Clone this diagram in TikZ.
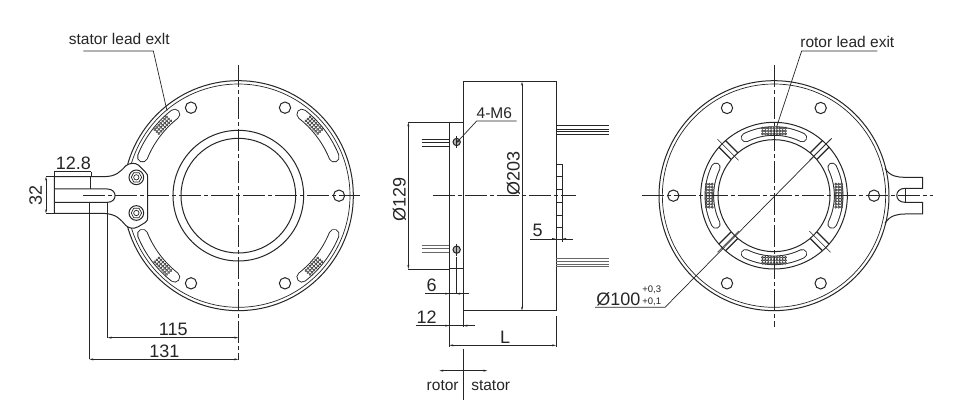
\documentclass[tikz,border=0pt]{standalone}
\usepackage{fontspec}
\setmainfont{Liberation Sans}
\usetikzlibrary{arrows.meta,calc}
\definecolor{ink}{HTML}{262626}
\tikzset{
  part/.style={draw=ink,line width=1pt},
  fine/.style={draw=ink,line width=.7pt},
  centre/.style={draw=ink,line width=.8pt,dash pattern=on 22pt off 3pt on 4pt off 3pt},
  dim/.style={draw=ink,line width=.7pt,{Stealth[length=4pt,width=2pt]}-{Stealth[length=4pt,width=2pt]}},
  big/.style={text=ink,inner sep=0pt,font=\fontsize{18}{20}\selectfont},
  small/.style={text=ink,inner sep=0pt,font=\fontsize{15.5}{18}\selectfont},
  tiny/.style={text=ink,inner sep=0pt,font=\fontsize{9.5}{10}\selectfont},
  Z/.style={x=.33333pt,y=-.33333pt}
}
% #1 cx, #2 cy, #3 radius, #4 from, #5 to, #6 outer width
\newcommand{\slotarc}[6]{%
  \draw[ink,line width=#6pt,line cap=round] plot[domain=#4:#5,samples=24,smooth] ({#1+#3*cos(\x)},{#2+#3*sin(\x)});
  \draw[white,line width=#6pt-1.9pt,line cap=round] plot[domain=#4:#5,samples=24,smooth] ({#1+#3*cos(\x)},{#2+#3*sin(\x)});
}
% #1 cx, #2 cy, #3 radius, #4 angle, #5 half count along the arc
\newcommand{\meshat}[5]{%
  \begin{scope}[shift={(#1,#2)},rotate=#4,x=.33333pt,y=.33333pt]
    \foreach \i in {-#5,...,#5}{\foreach \j in {-1,0,1}{
      \draw[ink!90,line width=.5pt,fill=ink!55] ({#3+\j*8.6},{\i*8.6}) circle[radius=3.5];
    }}
  \end{scope}
}
\begin{document}
\begin{tikzpicture}[x=1pt,y=-1pt]
\useasboundingbox (0,0) rectangle (963,406);
\fill[white] (0,0) rectangle (963,406);

% ---------- left view
\begin{scope}[shift={(20,20)},Z]
  \draw[part] (655,527) circle[radius=345];
  \draw[fine] (655,527) circle[radius=335];
  \draw[part] (655,527) circle[radius=196];
  \draw[part] (655,527) circle[radius=172];
  \foreach \p in {(513,263),(795,263),(957,527),(513,790),(795,790)}
    \draw[part] \p circle[radius=17];
  \slotarc{655}{527}{310}{22}{52}{11}
  \slotarc{655}{527}{310}{128}{158}{11}
  \slotarc{655}{527}{310}{202}{232}{11}
  \slotarc{655}{527}{310}{308}{338}{11}
  \meshat{655}{527}{310}{43}{3}
  \meshat{655}{527}{310}{137}{3}
  \meshat{655}{527}{310}{223}{3}
  \meshat{655}{527}{310}{317}{3}
  % tab and plate
  \draw[part,fill=white] (103,470) -- (250,470) .. controls (290,470) and (300,455) .. (318,437)
     .. controls (330,428) and (345,428) .. (355,435) -- (375,455) .. controls (383,462) and (383,465) .. (383,475)
     -- (383,590) .. controls (383,600) and (383,602) .. (375,608) -- (355,620)
     .. controls (340,628) and (328,625) .. (318,617) .. controls (300,597) and (290,582) .. (250,580)
     -- (103,580) -- cycle;
  \draw[part] (103,507) -- (262,507) .. controls (293,507) and (293,547) .. (262,547) -- (103,547);
  \draw[fine] (210,470) -- (210,507);
  \foreach \y in {472,579}{
    \draw[part] (349,\y) circle[radius=22];
    \draw[fine] (334,\y) -- (341,{\y-14}) -- (357,{\y-14}) -- (365,\y) -- (357,{\y+14}) -- (341,{\y+14}) -- cycle;
    \draw[fine] (349,\y) circle[radius=8];
  }
  % centre lines
  \draw[centre] (190,527) -- (1020,527);
  \draw[centre] (655,135) -- (655,1020);
  % dimensions
  \node[big] (d128) at (160,430) {12.8};
  \coordinate (a1) at (103,455); \coordinate (a2) at (213,455);
  \draw[fine] (a1) -- (a2);
  \draw[fine] (a1) -- (103,470);
  \draw[fine] (a2) -- (213,470);
  \node[big,rotate=90] (d32) at (47,527) {32};
  \coordinate (b1) at (78,470); \coordinate (b2) at (78,580);
  \draw[fine] (b1) -- (103,470);
  \draw[fine] (b2) -- (103,580);
  \draw[dim] (b1) -- (b2);
  \node[big] (d115) at (460,928) {115};
  \coordinate (c1) at (263,953); \coordinate (c2) at (655,953);
  \draw[fine] (263,547) -- (c1);
  \draw[dim] (c1) -- (c2);
  \node[big] (d131) at (433,994) {131};
  \coordinate (e1) at (208,1018); \coordinate (e2) at (655,1018);
  \draw[fine] (208,550) -- (e1);
  \draw[dim] (e1) -- (e2);
  % leader
  \node[small] (stat) at (298,56) {stator lead exlt};
  \coordinate (s1) at (190,93); \coordinate (s2) at (400,93); \coordinate (s3) at (441,272);
  \draw[fine] (s1) -- (s2) -- (s3);
\end{scope}

% ---------- middle view
\begin{scope}[shift={(370,60)},Z]
  \draw[part] (280,65) rectangle (558,752);
  \draw[part] (280,187) -- (238,187) -- (238,627) -- (280,627);
  \foreach \y in {197,208,215,222} \draw[fine] (558,\y) -- (716,\y);
  \foreach \y in {595,603,612,620} \draw[fine,draw=ink!70] (558,\y) -- (716,\y);
  \foreach \y in {238,248,260} \draw[fine] (155,\y) -- (238,\y);
  \foreach \y in {555,565,578} \draw[fine,draw=ink!70] (155,\y) -- (238,\y);
  \foreach \y in {246,569}{
    \draw[part,fill=ink!35] (260,\y) circle[radius=11];
    \draw[fine] (260,{\y-18}) -- (260,{\y+18});
  }
  % small plate on the right face
  \draw[part] (558,313) -- (576,313) -- (576,545);
  \draw[part] (558,503) -- (576,503);
  \foreach \y in {350,388,427,465} \draw[fine] (558,\y) -- (576,\y);
  \draw[centre] (188,407) -- (618,407);
  % dims
  \coordinate (f1) at (115,187); \coordinate (f2) at (115,627);
  \draw[fine] (f1) -- (238,187);
  \draw[fine] (f2) -- (238,627);
  \draw[dim] (f1) -- (f2);
  \node[big,rotate=90] (d129) at (88,419) {Ø129};
  \coordinate (g1) at (456,65); \coordinate (g2) at (456,752);
  \draw[dim] (g1) -- (g2);
  \node[big,rotate=90] (d203) at (430,340) {Ø203};
  \node[small] (m6) at (373,160) {4-M6};
  \coordinate (h1) at (440,183); \coordinate (h2) at (320,183); \coordinate (h3) at (258,250);
  \draw[fine,-{Stealth[length=4pt,width=2pt]}] (h1) -- (h2) -- (h3);
  \node[big] (d5) at (503,511) {5};
  \draw[fine] (480,537) -- (608,537);
  \fill[ink] (558,537) -- (546,534) -- (546,540) -- cycle;
  \fill[ink] (576,537) -- (588,534) -- (588,540) -- cycle;
  \node[big] (d6) at (185,675) {6};
  \draw[fine] (165,701) -- (296,701);
  \draw[fine] (258,590) -- (258,701);
  \fill[ink] (238,701) -- (226,698) -- (226,704) -- cycle;
  \fill[ink] (258,701) -- (270,698) -- (270,704) -- cycle;
  \node[big] (d12) at (170,772) {12};
  \draw[fine] (137,797) -- (315,797);
  \fill[ink] (238,797) -- (226,794) -- (226,800) -- cycle;
  \fill[ink] (280,797) -- (292,794) -- (292,800) -- cycle;
  \draw[fine] (238,627) -- (238,860);
  \draw[fine] (280,752) -- (280,800);
  \draw[fine] (558,768) -- (558,860);
  \coordinate (l1) at (238,856); \coordinate (l2) at (558,856);
  \draw[dim] (l1) -- (l2);
  \node[big] (dL) at (405,832) {L};
  \draw[fine] (280,866) -- (280,1020);
  \coordinate (r1) at (208,932); \coordinate (r2) at (352,932);
  \draw[fine,{Stealth[length=4pt,width=2pt]}-{Stealth[length=4pt,width=2pt]}] (r1) -- (r2);
  \node[small] (rot) at (218,978) {rotor};
  \node[small] (sta) at (362,978) {stator};
\end{scope}

% ---------- right view
\begin{scope}[shift={(590,20)},Z]
  \draw[part] (552,527) circle[radius=345];
  \draw[fine] (552,527) circle[radius=335];
  \draw[part] (552,527) circle[radius=220];
  \draw[part] (552,527) circle[radius=168];
  \foreach \p in {(411,264),(692,264),(250,527),(852,527),(411,790),(692,790)}
    \draw[part] \p circle[radius=17];
  \slotarc{552}{527}{194}{-26}{26}{9.5}
  \slotarc{552}{527}{194}{64}{116}{9.5}
  \slotarc{552}{527}{194}{154}{206}{9.5}
  \slotarc{552}{527}{194}{244}{296}{9.5}
  \meshat{552}{527}{194}{0}{4}
  \meshat{552}{527}{194}{90}{4}
  \meshat{552}{527}{194}{180}{4}
  \meshat{552}{527}{194}{270}{4}
  \foreach \a in {45,135,225,315}{
    \begin{scope}[shift={(552,527)},rotate=\a,x=.33333pt,y=.33333pt]
      \draw[part,line width=1.2pt] (168,-14) -- (220,-14);
      \draw[part,line width=1.2pt] (168,14) -- (220,14);
      \draw[fine,line width=.5pt] (150,0) -- (240,0);
    \end{scope}
  }
  % tab
  \draw[part] (885,445) .. controls (900,470) and (925,472) .. (945,472) -- (998,472) -- (998,505) -- (945,505)
     .. controls (912,505) and (912,547) .. (945,547) -- (998,547) -- (998,582) -- (945,582)
     .. controls (925,582) and (900,585) .. (885,610);
  \draw[fine] (945,505) -- (945,547);
  % centre lines
  \draw[centre] (155,527) -- (1030,527);
  \draw[centre] (552,135) -- (552,920);
  % leaders
  \node[small] (rle) at (772,66) {rotor lead exit};
  \coordinate (t1) at (862,93); \coordinate (t2) at (635,93); \coordinate (t3) at (560,320);
  \draw[fine] (t1) -- (t2) -- (t3);
  \node[big] (d100) at (85,838) {Ø100};
  \node[tiny] (up) at (185,809) {+0,3};
  \node[tiny] (lo) at (185,846) {+0,1};
  \coordinate (u1) at (15,862); \coordinate (u2) at (225,862); \coordinate (u3) at (725,355);
  \draw[fine] (u1) -- (u2) -- (u3);
\end{scope}
\end{tikzpicture}
\end{document}
